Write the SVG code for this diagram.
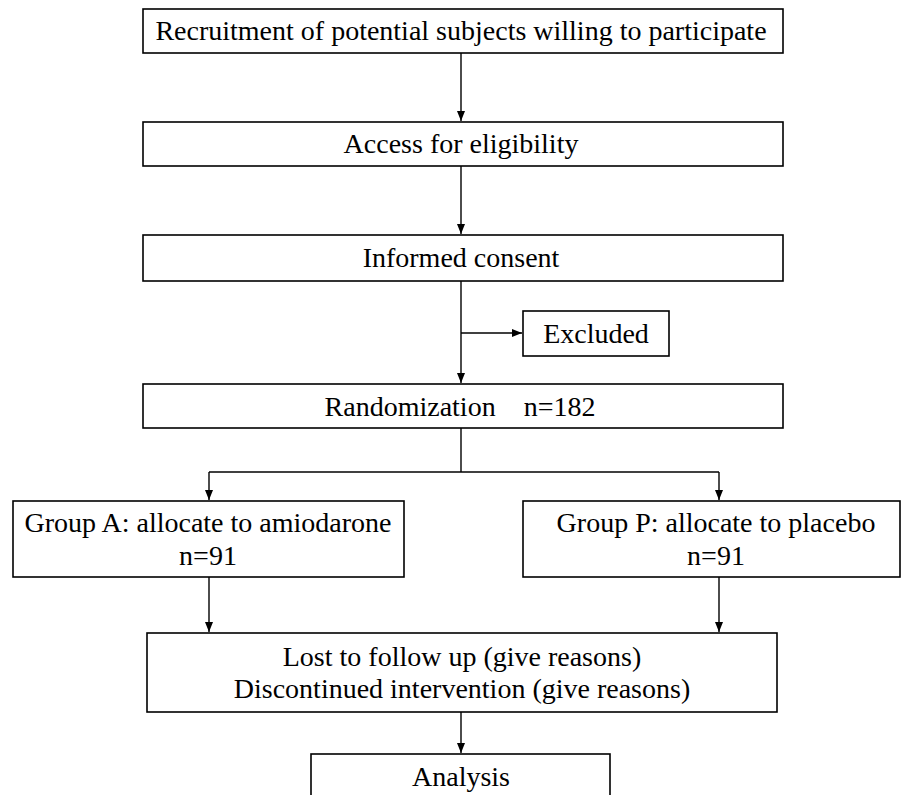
<svg xmlns="http://www.w3.org/2000/svg" width="901" height="795" viewBox="0 0 901 795">
<defs>
<marker id="ah" markerWidth="10" markerHeight="10" refX="10" refY="5" orient="auto" markerUnits="userSpaceOnUse">
<path d="M0,1 L10,5 L0,9 Z" fill="#000"/>
</marker>
<style>
.box{fill:#fff;stroke:#000;stroke-width:1.6}
.t{font-family:"Liberation Serif","Times New Roman",serif;font-size:28px;fill:#000;text-anchor:middle}
.c{fill:none;stroke:#000;stroke-width:1.4}
</style>
</defs>
<rect width="901" height="795" fill="#fff"/>
<g id="connectors">
<line class="c" x1="461" y1="53" x2="461" y2="121" marker-end="url(#ah)"/>
<line class="c" x1="461" y1="166" x2="461" y2="234" marker-end="url(#ah)"/>
<line class="c" x1="461" y1="281" x2="461" y2="383" marker-end="url(#ah)"/>
<line class="c" x1="461" y1="333" x2="522" y2="333" marker-end="url(#ah)"/>
<line class="c" x1="461" y1="428" x2="461" y2="472"/>
<line class="c" x1="209" y1="472" x2="719" y2="472"/>
<line class="c" x1="209" y1="472" x2="209" y2="500" marker-end="url(#ah)"/>
<line class="c" x1="719" y1="472" x2="719" y2="500" marker-end="url(#ah)"/>
<line class="c" x1="209" y1="577" x2="209" y2="632" marker-end="url(#ah)"/>
<line class="c" x1="719" y1="577" x2="719" y2="632" marker-end="url(#ah)"/>
<line class="c" x1="461" y1="712" x2="461" y2="753" marker-end="url(#ah)"/>
</g>
<g id="recruitment">
<rect class="box" x="143" y="9" width="640" height="44"/>
<text class="t" x="461" y="40">Recruitment of potential subjects willing to participate</text>
</g>
<g id="eligibility">
<rect class="box" x="143" y="122" width="640" height="44"/>
<text class="t" x="461" y="153">Access for eligibility</text>
</g>
<g id="consent">
<rect class="box" x="143" y="235" width="640" height="46"/>
<text class="t" x="461" y="267">Informed consent</text>
</g>
<g id="excluded">
<rect class="box" x="523" y="311" width="146" height="45"/>
<text class="t" x="596" y="343">Excluded</text>
</g>
<g id="randomization">
<rect class="box" x="143" y="384" width="640" height="44"/>
<text class="t" x="460" y="416" xml:space="preserve">Randomization    n=182</text>
</g>
<g id="groupA">
<rect class="box" x="13" y="501" width="391" height="76"/>
<text class="t" x="208" y="532">Group A: allocate to amiodarone</text>
<text class="t" x="208" y="565">n=91</text>
</g>
<g id="groupP">
<rect class="box" x="523" y="501" width="377" height="76"/>
<text class="t" x="716" y="532">Group P: allocate to placebo</text>
<text class="t" x="716" y="565">n=91</text>
</g>
<g id="lost">
<rect class="box" x="147" y="633" width="630" height="79"/>
<text class="t" x="462" y="666">Lost to follow up (give reasons)</text>
<text class="t" x="462" y="698">Discontinued intervention (give reasons)</text>
</g>
<g id="analysis">
<rect class="box" x="311" y="754" width="299" height="50"/>
<text class="t" x="461" y="786">Analysis</text>
</g>
</svg>
